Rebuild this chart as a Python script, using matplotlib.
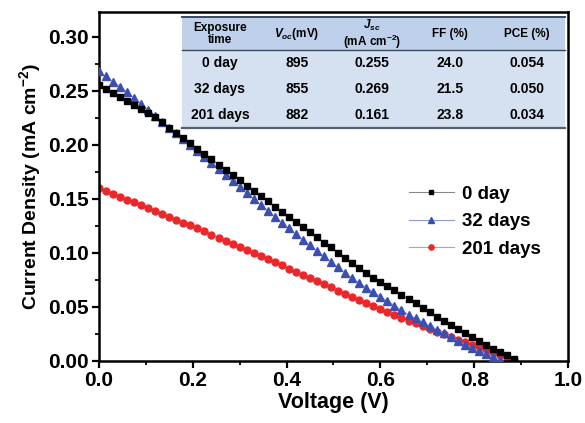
import matplotlib
matplotlib.use('Agg')
import matplotlib.pyplot as plt
from matplotlib.patches import Rectangle
from matplotlib.ticker import MultipleLocator, FormatStrFormatter

plt.rcParams['font.family'] = ['Liberation Sans', 'DejaVu Sans']
plt.rcParams['font.weight'] = 'bold'
plt.rcParams['mathtext.fontset'] = 'custom'
plt.rcParams['mathtext.rm'] = 'Liberation Sans:bold'
plt.rcParams['mathtext.bf'] = 'Liberation Sans:bold'
plt.rcParams['mathtext.it'] = 'Liberation Sans:italic:bold'

# J-V sweep, voltage in V
voltage = [0.000, 0.015, 0.030, 0.045, 0.060, 0.075, 0.090, 0.105, 0.120, 0.135,
           0.150, 0.165, 0.180, 0.195, 0.210, 0.225, 0.240, 0.255, 0.270, 0.285,
           0.300, 0.315, 0.330, 0.345, 0.360, 0.375, 0.390, 0.405, 0.420, 0.435,
           0.450, 0.465, 0.480, 0.495, 0.510, 0.525, 0.540, 0.555, 0.570, 0.585,
           0.600, 0.615, 0.630, 0.645, 0.660, 0.675, 0.690, 0.705, 0.720, 0.735,
           0.750, 0.765, 0.780, 0.795, 0.810, 0.825, 0.840, 0.855, 0.870, 0.885]

# current density, mA cm^-2
j_0day = [0.2550, 0.2513, 0.2477, 0.2440, 0.2403, 0.2366, 0.2330, 0.2293, 0.2256, 0.2207,
          0.2159, 0.2110, 0.2061, 0.2012, 0.1964, 0.1915, 0.1866, 0.1817, 0.1769, 0.1720,
          0.1671, 0.1622, 0.1574, 0.1525, 0.1476, 0.1427, 0.1379, 0.1330, 0.1281, 0.1235,
          0.1188, 0.1142, 0.1095, 0.1049, 0.1002, 0.0956, 0.0909, 0.0863, 0.0816, 0.0771,
          0.0731, 0.0691, 0.0651, 0.0611, 0.0571, 0.0531, 0.0490, 0.0450, 0.0410, 0.0372,
          0.0334, 0.0295, 0.0257, 0.0219, 0.0181, 0.0143, 0.0111, 0.0081, 0.0051, 0.0021]

j_32days = [0.2680, 0.2632, 0.2584, 0.2536, 0.2488, 0.2433, 0.2378, 0.2323, 0.2268, 0.2213,
            0.2159, 0.2104, 0.2049, 0.1994, 0.1939, 0.1884, 0.1829, 0.1774, 0.1719, 0.1664,
            0.1609, 0.1555, 0.1500, 0.1445, 0.1390, 0.1335, 0.1280, 0.1225, 0.1170, 0.1119,
            0.1068, 0.1017, 0.0966, 0.0915, 0.0864, 0.0813, 0.0762, 0.0720, 0.0678, 0.0636,
            0.0594, 0.0552, 0.0510, 0.0468, 0.0426, 0.0392, 0.0357, 0.0323, 0.0288, 0.0254,
            0.0219, 0.0185, 0.0150, 0.0122, 0.0093, 0.0065, 0.0036, 0.0008]

j_201days = [0.1600, 0.1573, 0.1547, 0.1520, 0.1493, 0.1467, 0.1440, 0.1413, 0.1386, 0.1360,
             0.1333, 0.1306, 0.1280, 0.1253, 0.1225, 0.1197, 0.1168, 0.1140, 0.1111, 0.1083,
             0.1054, 0.1026, 0.0997, 0.0969, 0.0940, 0.0912, 0.0883, 0.0854, 0.0825, 0.0796,
             0.0766, 0.0737, 0.0708, 0.0679, 0.0649, 0.0620, 0.0591, 0.0562, 0.0532, 0.0504,
             0.0478, 0.0452, 0.0425, 0.0399, 0.0373, 0.0347, 0.0320, 0.0294, 0.0268, 0.0244,
             0.0220, 0.0196, 0.0172, 0.0148, 0.0124, 0.0100, 0.0076, 0.0052, 0.0028, 0.0004]

# device parameters for the inset table
exposure = ['0 day', '32 days', '201 days']
voc = ['895', '855', '882']
jsc = ['0.255', '0.269', '0.161']
ff = ['24.0', '21.5', '23.8']
pce = ['0.054', '0.050', '0.034']
headers = ['Exposure\ntime', '$V_{oc}$(mV)', '$J_{sc}$\n(mA cm$^{-2}$)', 'FF (%)', 'PCE (%)']

fig = plt.figure(figsize=(5.85, 4.23), dpi=100)
ax = fig.add_axes([0.169, 0.147, 0.802, 0.825])

ax.plot(voltage, j_0day, '-', color='#888888', lw=0.8, marker='s', ms=4,
        mfc='black', mec='black', label='0 day', zorder=4)
ax.plot(voltage[:len(j_32days)], j_32days, '-', color='#8f9ad4', lw=0.8, marker='^', ms=6,
        mfc='#3b4fb0', mec='#3b4fb0', label='32 days', zorder=3)
ax.plot(voltage, j_201days, '-', color='#f08a8a', lw=0.8, marker='o', ms=5,
        mfc='#e8282b', mec='#e8282b', label='201 days', zorder=2)

ax.set_xlim(0, 1.0)
ax.set_ylim(0, 0.323)
ax.xaxis.set_major_locator(MultipleLocator(0.2))
ax.xaxis.set_minor_locator(MultipleLocator(0.1))
ax.yaxis.set_major_locator(MultipleLocator(0.05))
ax.yaxis.set_minor_locator(MultipleLocator(0.025))
ax.xaxis.set_major_formatter(FormatStrFormatter('%.1f'))
ax.yaxis.set_major_formatter(FormatStrFormatter('%.2f'))
ax.tick_params(which='major', direction='out', length=5, width=1.6, labelsize=15, pad=2)
ax.tick_params(which='minor', direction='out', length=3, width=1.3)
ax.tick_params(top=False, right=False)
for s in ax.spines.values():
    s.set_linewidth(1.8)

ax.set_xlabel('Voltage (V)', fontsize=15.5, fontweight='bold', labelpad=2)
ax.set_ylabel('Current Density (mA cm$^{-2}$)', fontsize=14, fontweight='bold', labelpad=4)

leg = ax.legend(loc='upper left', bbox_to_anchor=(0.625, 0.55), frameon=False,
                fontsize=13.5, handlelength=2.4, handletextpad=0.45, labelspacing=0.55,
                markerscale=0.75)
for t in leg.get_texts():
    t.set_fontweight('bold')

# inset table of device parameters
tl, tr = 0.177, 0.994
t_top, t_head, t_bot = 0.986, 0.891, 0.668
ax.add_patch(Rectangle((tl, t_head), tr - tl, t_top - t_head, transform=ax.transAxes,
                       facecolor='#bfd1ea', edgecolor='none', zorder=5))
ax.add_patch(Rectangle((tl, t_bot), tr - tl, t_head - t_bot, transform=ax.transAxes,
                       facecolor='#d5e1f1', edgecolor='none', zorder=5))
ax.plot([tl, tr], [t_top, t_top], transform=ax.transAxes, color='#3a4a5a', lw=1.4, zorder=6)
ax.plot([tl, tr], [t_head, t_head], transform=ax.transAxes, color='#3a4a5a', lw=1.0, zorder=6)
ax.plot([tl, tr], [t_bot, t_bot], transform=ax.transAxes, color='#55606a', lw=1.6, zorder=6)

col_x = [0.258, 0.422, 0.582, 0.748, 0.913]
for x, h in zip(col_x, headers):
    ax.text(x, 0.936, h, transform=ax.transAxes, ha='center', va='center',
            fontsize=8.5, fontweight='bold', linespacing=1.0, zorder=7)
row_y = [0.854, 0.779, 0.705]
for i, y in enumerate(row_y):
    for x, v in zip(col_x, [exposure[i], voc[i], jsc[i], ff[i], pce[i]]):
        ax.text(x, y, v, transform=ax.transAxes, ha='center', va='center',
                fontsize=10, fontweight='bold', zorder=7)

fig.savefig('out.png', dpi=100)
